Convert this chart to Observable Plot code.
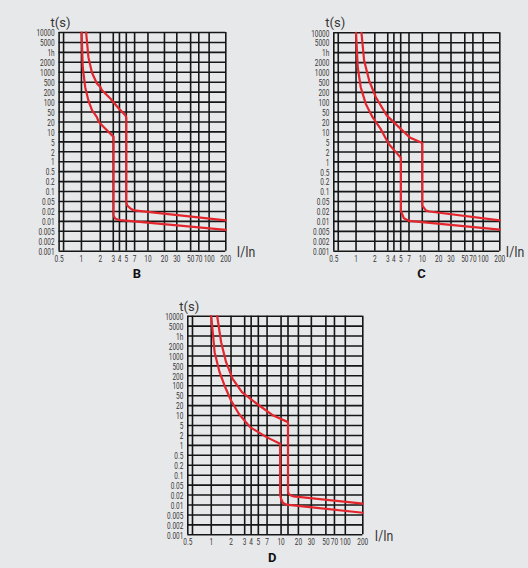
<!DOCTYPE html>
<html><head><meta charset="utf-8">
<script src="https://cdn.jsdelivr.net/npm/d3@7"></script>
<script src="https://cdn.jsdelivr.net/npm/@observablehq/plot@0.6"></script>
<style>
html,body{margin:0;padding:0;background:#e7e8ea;}
#wrap{position:relative;width:528px;height:568px;overflow:hidden;background:#e7e8ea;}
.panel{position:absolute;}
</style></head><body><div id="wrap"></div>
<script>
// time axis (rows, top to bottom)
const timeTicks = [10000,5000,3600,2000,1000,500,200,100,50,20,10,5,2,1,0.5,0.2,0.1,0.05,0.02,0.01,0.005,0.002,0.001];
const timeTickLabels = ["10000","5000","1h","2000","1000","500","200","100","50","20","10","5","2","1","0.5","0.2","0.1","0.05","0.02","0.01","0.005","0.002","0.001"];
// current axis
const currentTicks = [0.5,1,2,3,4,5,7,10,20,30,50,70,100,200];
const currentTickLabels = ["0.5","1","2","3","4","5","7","10","20","30","50","70","100","200"];
const extraGridBC = [0.6];
const extraGridD = [0.6,14];

// curves [I/In, t(s)]
const curveB1 = [[1.01,10000],[1.07,1510],[1.2,350],[1.37,116],[1.56,60],[1.82,34.7],[1.91,21],[2.26,15],[3.05,7.5],[3.05,0.016],[3.29,0.013],[3.68,0.0118],[4.14,0.0113],[200,0.00575]];
const curveB2 = [[1.25,10000],[1.37,2830],[1.56,975],[1.82,461],[2,359],[2.13,260],[2.79,134],[3.89,68],[4.86,40.7],[5,33],[5,0.0485],[5.19,0.0383],[6,0.029],[6.83,0.023],[200,0.011]];
const curveC1 = [[1,10000],[1.09,1530],[1.25,356],[1.52,92],[1.88,35],[2.45,13.2],[3.17,4.4],[5.05,1.4],[5.05,0.0218],[5.76,0.0132],[7,0.0105],[200,0.00585]];
const curveC2 = [[1.29,10000],[1.43,2336],[1.7,595],[2.08,151],[2.93,39.8],[5,13.2],[7.3,7.1],[10,4.7],[10.05,0.038],[12.3,0.0227],[14.4,0.02],[200,0.011]];
const curveD1 = [[1,10000],[1.17,1380],[1.42,311],[1.67,103],[2,35.6],[2.57,11.8],[3.84,4.5],[6.87,1.83],[9.8,1.16],[9.8,0.02],[10,0.0163],[11,0.0123],[13,0.0103],[200,0.0061]];
const curveD2 = [[1.3,10000],[1.5,2610],[1.75,685],[2.12,170],[2.8,68],[4.78,25.7],[8.34,10],[14,6.7],[14,0.031],[14.3,0.0239],[15.6,0.0196],[17.3,0.0187],[200,0.0114]];

// scale layout (fraction of plot width at each current tick)
const xFrac = [0,0.134,0.247,0.325,0.362,0.403,0.453,0.533,0.632,0.706,0.789,0.838,0.9,1];

const FONT = 'Roboto,"Noto Sans",sans-serif';
const GRID = "#161616";
const RED = "#e3262d";

const panels = [
  {name:"B", left:0, top:0, W:268, H:292, x0:58.6, y0:32, w:166.7, h:218.7, curves:[curveB1,curveB2], grid:extraGridBC, ldx:-5.5, udx:11},
  {name:"C", left:275, top:0, W:253, H:292, x0:58.3, y0:32.3, w:166, h:218.4, curves:[curveC1,curveC2], grid:extraGridBC, ldx:4.7, udx:6},
  {name:"D", left:129, top:284, W:280, H:284, x0:58.3, y0:31.7, w:175, h:218.6, curves:[curveD1,curveD2], grid:extraGridD, ldx:-3, udx:12}
];

const timeAsc = timeTicks.slice().reverse();
const tLabel = new Map(timeTicks.map((d,i)=>[d,timeTickLabels[i]]));
const cLabel = new Map(currentTicks.map((d,i)=>[d,currentTickLabels[i]]));

for (const p of panels) {
  const n = timeAsc.length - 1;
  const chart = Plot.plot({
    width: p.W, height: p.H,
    marginLeft: p.x0, marginTop: p.y0,
    marginRight: p.W - p.x0 - p.w, marginBottom: p.H - p.y0 - p.h,
    style: {background:"transparent", color:"#363636", fontFamily: FONT, overflow:"visible"},
    x: {type:"linear", domain: currentTicks, range: currentTicks.map((d,i)=>p.x0 + xFrac[i]*p.w)},
    y: {type:"linear", domain: timeAsc, range: timeAsc.map((d,i)=>p.y0 + p.h - i*p.h/n)},
    marks: [
      Plot.ruleY(timeTicks, {y: d=>d, x1: 0.5, x2: 200, stroke: GRID, strokeWidth: 1.6}),
      Plot.ruleX(currentTicks.concat(p.grid), {x: d=>d, y1: 0.001, y2: 10000, stroke: GRID, strokeWidth: 1.6}),
      ...p.curves.map(c => Plot.line(c, {x: d=>d[0], y: d=>d[1], stroke: RED, strokeWidth: 2.2, strokeLinejoin:"round"})),
      Plot.axisX(currentTicks, {tickSize: 0, tickPadding: 4.5, tickFormat: d=>cLabel.get(d), fontSize: 8.5, label: null}),
      Plot.axisY(timeTicks, {tickSize: 0, tickPadding: 4.5, tickFormat: d=>tLabel.get(d), fontSize: 8.5, dy: 1, label: null}),
      Plot.text(["t(s)"], {frameAnchor:"top-left", text: d=>d, dx: -8.5, dy: -15, fontSize: 13.5}),
      Plot.text(["I/In"], {frameAnchor:"bottom-right", text: d=>d, textAnchor:"start", dx: p.udx, dy: 6, fontSize: 14.5}),
      Plot.text([p.name], {frameAnchor:"bottom", text: d=>d, dx: p.ldx, dy: 27, fontSize: 13, fontWeight:"bold", fill:"#111"})
    ]
  });
  const div = document.createElement("div");
  div.className = "panel";
  div.style.left = p.left + "px";
  div.style.top = p.top + "px";
  div.appendChild(chart);
  document.getElementById("wrap").appendChild(div);
  // condensed lettering, as in the reference
  chart.querySelectorAll("text").forEach(t => {
    const s = t.textContent;
    if (s === p.name) return;
    const len = t.getComputedTextLength();
    let target;
    if (s === "t(s)") target = 20;
    else if (s === "I/In") target = 18.5;
    else target = len * 0.76;
    t.setAttribute("textLength", target.toFixed(2));
    t.setAttribute("lengthAdjust", "spacingAndGlyphs");
  });
}
</script>
</body></html>
